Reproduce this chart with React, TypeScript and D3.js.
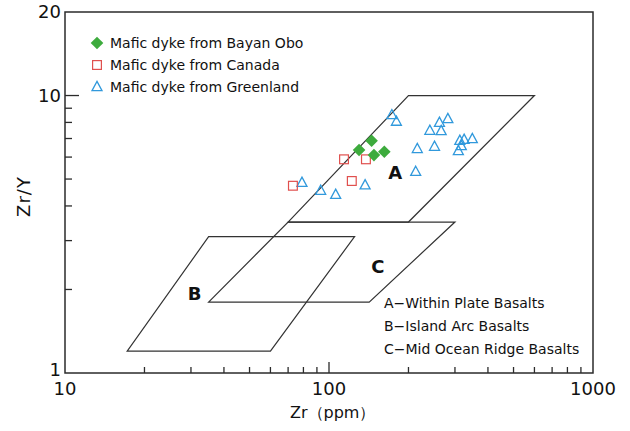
import { useEffect, useRef } from "react";
import * as d3 from "d3";

// Zr (ppm), Zr/Y
const bayanObo = [
  [130, 6.36],
  [145, 6.87],
  [148, 6.1],
  [162, 6.27],
];
const canada = [
  [73, 4.73],
  [114, 5.89],
  [122, 4.92],
  [138, 5.89],
];
const greenland = [
  [79, 4.85],
  [93, 4.54],
  [106, 4.39],
  [137, 4.75],
  [173, 8.5],
  [180, 8.05],
  [213, 5.31],
  [216, 6.42],
  [241, 7.47],
  [262, 7.98],
  [282, 8.23],
  [266, 7.45],
  [251, 6.54],
  [313, 6.87],
  [325, 6.93],
  [349, 6.97],
  [317, 6.58],
  [309, 6.31],
];

// discrimination fields (Zr, Zr/Y vertices)
const fieldA = [
  [200, 10],
  [600, 10],
  [200, 3.5],
  [70, 3.5],
];
const fieldB = [
  [35, 3.1],
  [125, 3.1],
  [60, 1.2],
  [17.2, 1.2],
];
const fieldC = [
  [70, 3.5],
  [300, 3.5],
  [142, 1.8],
  [35, 1.8],
];
const fieldLetters = ["A", "B", "C"];
const fieldLetterAt = [
  [178, 5.3],
  [31, 1.94],
  [153, 2.41],
];

const seriesNames = [
  "Mafic dyke from Bayan Obo",
  "Mafic dyke from Canada",
  "Mafic dyke from Greenland",
];
const fieldNames = [
  "A\u2212Within Plate Basalts",
  "B\u2212Island Arc Basalts",
  "C\u2212Mid Ocean Ridge Basalts",
];
const xTickLabels = [10, 100, 1000];
const yTickLabels = [1, 10, 20];

const FONT = "'DejaVu Sans', sans-serif";
const AXIS = "#2b2b2b";
const GREEN = "#3dab3d";
const RED = "#e0504e";
const BLUE = "#3199dc";

export default function App() {
  const svgRef = useRef(null);

  useEffect(() => {
    if (!svgRef.current) return;
    document.body.style.margin = "0";

    const width = 630;
    const height = 431;
    const left = 65,
      right = 593,
      top = 12,
      bottom = 373;

    const svg = d3.select(svgRef.current);
    svg.selectAll("*").remove();
    svg.attr("width", width).attr("height", height).attr("viewBox", `0 0 ${width} ${height}`);

    svg.append("rect").attr("width", width).attr("height", height).attr("fill", "white");

    const x = d3.scaleLog().domain([10, 1000]).range([left, right]);
    const y = d3.scaleLog().domain([1, 20]).range([bottom, top]);

    // fields
    const line = d3
      .line()
      .x((d) => x(d[0]))
      .y((d) => y(d[1]))
      .curve(d3.curveLinearClosed);

    [fieldA, fieldB, fieldC].forEach((f) => {
      svg
        .append("path")
        .attr("d", line(f))
        .attr("fill", "none")
        .attr("stroke", "#333")
        .attr("stroke-width", 1.2);
    });

    fieldLetters.forEach((t, i) => {
      svg
        .append("text")
        .attr("x", x(fieldLetterAt[i][0]))
        .attr("y", y(fieldLetterAt[i][1]))
        .attr("dy", "0.36em")
        .attr("text-anchor", "middle")
        .attr("font-family", FONT)
        .attr("font-weight", "bold")
        .attr("font-size", "18px")
        .attr("fill", "#111")
        .text(t);
    });

    // frame
    svg
      .append("rect")
      .attr("x", left)
      .attr("y", top)
      .attr("width", right - left)
      .attr("height", bottom - top)
      .attr("fill", "none")
      .attr("stroke", AXIS)
      .attr("stroke-width", 1.5);

    // x ticks (inward)
    x.ticks().forEach((v) => {
      if (v === 10 || v === 1000) return;
      const major = xTickLabels.includes(v);
      svg
        .append("line")
        .attr("x1", x(v))
        .attr("x2", x(v))
        .attr("y1", bottom)
        .attr("y2", bottom - (major ? 11 : 6))
        .attr("stroke", AXIS)
        .attr("stroke-width", 1.3);
    });

    // y ticks (inward)
    y.ticks().forEach((v) => {
      if (v === 1 || v === 20) return;
      const major = v === 10;
      svg
        .append("line")
        .attr("x1", left)
        .attr("x2", left + (major ? 14 : 7))
        .attr("y1", y(v))
        .attr("y2", y(v))
        .attr("stroke", AXIS)
        .attr("stroke-width", 1.3);
    });

    xTickLabels.forEach((v) => {
      svg
        .append("text")
        .attr("x", x(v))
        .attr("y", 395)
        .attr("text-anchor", "middle")
        .attr("font-family", FONT)
        .attr("font-size", "18px")
        .attr("fill", "#111")
        .text(v);
    });

    yTickLabels.forEach((v) => {
      svg
        .append("text")
        .attr("x", 61)
        .attr("y", v === 1 ? y(v) - 3 : y(v))
        .attr("dy", "0.36em")
        .attr("text-anchor", "end")
        .attr("font-family", FONT)
        .attr("font-size", "18px")
        .attr("fill", "#111")
        .text(v);
    });

    svg
      .append("text")
      .attr("x", 290)
      .attr("y", 418)
      .attr("font-family", FONT)
      .attr("font-size", "16px")
      .attr("fill", "#111")
      .text("Zr\uFF08ppm\uFF09");

    svg
      .append("text")
      .attr("transform", `translate(30,${(top + bottom) / 2 + 4}) rotate(-90)`)
      .attr("text-anchor", "middle")
      .attr("font-family", FONT)
      .attr("font-size", "18px")
      .attr("letter-spacing", "1px")
      .attr("fill", "#111")
      .text("Zr/Y");

    // markers
    const diamond = (g, cx, cy) =>
      g
        .append("path")
        .attr("d", `M${cx},${cy - 6.3}L${cx + 6.3},${cy}L${cx},${cy + 6.3}L${cx - 6.3},${cy}Z`)
        .attr("fill", GREEN);
    const square = (g, cx, cy) =>
      g
        .append("rect")
        .attr("x", cx - 4.4)
        .attr("y", cy - 4.4)
        .attr("width", 8.8)
        .attr("height", 8.8)
        .attr("fill", "none")
        .attr("stroke", RED)
        .attr("stroke-width", 1.2);
    const triangle = (g, cx, cy) =>
      g
        .append("path")
        .attr("d", `M${cx},${cy - 5.6}L${cx + 5},${cy + 3.6}L${cx - 5},${cy + 3.6}Z`)
        .attr("fill", "none")
        .attr("stroke", BLUE)
        .attr("stroke-width", 1.3);

    const pts = svg.append("g");
    greenland.forEach((d) => triangle(pts, x(d[0]), y(d[1])));
    canada.forEach((d) => square(pts, x(d[0]), y(d[1])));
    bayanObo.forEach((d) => diamond(pts, x(d[0]), y(d[1])));

    // series legend
    const markers = [diamond, square, triangle];
    seriesNames.forEach((name, i) => {
      const cy = 43 + i * 22;
      markers[i](svg, 97, cy);
      svg
        .append("text")
        .attr("x", 110)
        .attr("y", cy + 5)
        .attr("font-family", FONT)
        .attr("font-size", "14px")
        .attr("fill", "#111")
        .text(name);
    });

    // field legend
    fieldNames.forEach((name, i) => {
      svg
        .append("text")
        .attr("x", 384)
        .attr("y", 308 + i * 23)
        .attr("font-family", FONT)
        .attr("font-size", "14px")
        .attr("fill", "#111")
        .text(name);
    });
  }, []);

  return <svg ref={svgRef} style={{ display: "block" }} />;
}
